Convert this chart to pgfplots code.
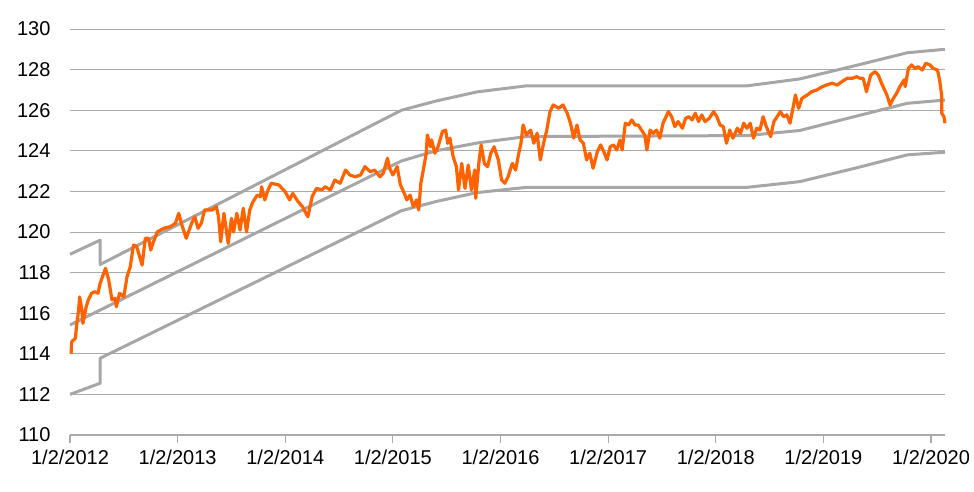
\documentclass[border=0pt]{standalone}
\usepackage{pgfplots}
\pgfplotsset{compat=1.18}
\usepackage{fontspec}
\setmainfont{Liberation Sans}
\definecolor{ingorange}{RGB}{255,98,0}
\definecolor{bandgray}{RGB}{166,166,166}
\definecolor{gridgray}{RGB}{170,170,170}
\begin{document}
\begin{tikzpicture}
\useasboundingbox (-70pt,-57pt) rectangle (904pt,435pt);
\begin{axis}[
  at={(0pt,0pt)}, anchor=south west,
  scale only axis, width=875pt, height=406pt,
  xmin=2012, xmax=2020.13, ymin=110, ymax=130,
  ytick={110,112,...,130},
  xtick={2012,2013,...,2020},
  xticklabels={1/2/2012,1/2/2013,1/2/2014,1/2/2015,1/2/2016,1/2/2017,1/2/2018,1/2/2019,1/2/2020},
  ymajorgrids,
  grid style={draw=gridgray, line width=0.9pt},
  axis x line*=bottom,
  axis y line*=left,
  y axis line style={draw=none},
  x axis line style={draw=gridgray, line width=1.2pt},
  ytick style={draw=none},
  xtick style={draw=gridgray, line width=1.2pt},
  tick align=outside,
  major tick length=8pt,
  /pgf/number format/assume math mode=true,
  tick label style={font=\fontsize{20}{23}\selectfont, text=black},
  yticklabel style={xshift=-8pt},
  xticklabel style={yshift=-3pt},
  clip=false,
]
% upper band
\addplot[draw=bandgray, line width=3pt, line join=round] coordinates {
(2012,118.9) (2012.28,119.6) (2012.28,118.4) (2015.08,126.0) (2015.4,126.45) (2015.78,126.9) (2016.24,127.2) (2018.29,127.2) (2018.78,127.54) (2019.3,128.2) (2019.78,128.83) (2020.13,129.0)
};
% middle band
\addplot[draw=bandgray, line width=3pt, line join=round] coordinates {
(2012,115.42) (2015.08,123.5) (2015.4,124.0) (2015.8,124.4) (2016.24,124.7) (2018.29,124.75) (2018.78,125.0) (2019.3,125.7) (2019.78,126.34) (2020.13,126.5)
};
% lower band
\addplot[draw=bandgray, line width=3pt, line join=round] coordinates {
(2012,112.0) (2012.28,112.55) (2012.28,113.78) (2015.08,121.05) (2015.4,121.5) (2015.78,121.94) (2016.24,122.2) (2018.29,122.2) (2018.78,122.48) (2019.3,123.15) (2019.78,123.8) (2020.13,123.93)
};
% series
\addplot[draw=ingorange, line width=3.2pt, line join=round] coordinates {
(2012.01,114.0) (2012.016,114.6) (2012.05,114.76) (2012.06,115.33) (2012.08,116.16) (2012.09,116.8) (2012.11,116.16) (2012.12,115.5) (2012.15,116.3) (2012.17,116.65) (2012.20,116.98) (2012.23,117.06) (2012.26,116.98) (2012.28,117.47) (2012.33,118.21) (2012.36,117.64) (2012.39,116.65) (2012.42,116.73) (2012.43,116.32) (2012.46,116.98) (2012.50,116.8) (2012.53,117.8) (2012.56,118.29) (2012.59,119.36) (2012.62,119.28) (2012.67,118.37) (2012.70,119.69) (2012.73,119.69) (2012.75,119.11) (2012.77,119.44) (2012.81,120.0) (2012.87,120.18) (2012.93,120.26) (2012.98,120.43) (2013.01,120.92) (2013.04,120.34) (2013.08,119.69) (2013.13,120.43) (2013.16,120.75) (2013.19,120.18) (2013.22,120.43) (2013.25,121.08) (2013.32,121.08) (2013.36,121.25) (2013.38,120.75) (2013.40,119.52) (2013.43,120.92) (2013.47,119.44) (2013.50,120.67) (2013.52,120.0) (2013.55,120.92) (2013.58,120.1) (2013.61,121.17) (2013.64,120.0) (2013.67,121.08) (2013.70,121.49) (2013.74,121.82) (2013.77,121.74) (2013.78,122.23) (2013.81,121.58) (2013.84,122.07) (2013.87,122.4) (2013.94,122.32) (2014.00,121.98) (2014.04,121.58) (2014.07,121.9) (2014.12,121.49) (2014.16,121.25) (2014.21,120.75) (2014.25,121.74) (2014.29,122.15) (2014.34,122.07) (2014.37,122.23) (2014.42,122.07) (2014.46,122.56) (2014.51,122.4) (2014.56,123.05) (2014.60,122.81) (2014.65,122.72) (2014.70,122.81) (2014.74,123.22) (2014.79,122.97) (2014.83,123.05) (2014.88,122.72) (2014.91,122.89) (2014.95,123.63) (2014.97,123.14) (2015.00,122.81) (2015.04,123.22) (2015.07,122.32) (2015.10,121.98) (2015.13,121.58) (2015.16,121.82) (2015.19,121.25) (2015.22,121.58) (2015.24,121.08) (2015.26,122.4) (2015.28,122.97) (2015.31,123.88) (2015.32,124.78) (2015.35,124.2) (2015.36,124.53) (2015.39,123.88) (2015.42,124.2) (2015.46,124.94) (2015.49,125.02) (2015.51,124.37) (2015.53,124.62) (2015.56,123.71) (2015.59,123.22) (2015.61,122.07) (2015.64,123.38) (2015.67,122.15) (2015.70,123.3) (2015.73,122.07) (2015.76,123.05) (2015.77,121.66) (2015.80,123.46) (2015.82,124.29) (2015.85,123.38) (2015.88,123.22) (2015.91,123.88) (2015.94,124.2) (2015.98,123.55) (2016.01,122.56) (2016.04,122.4) (2016.07,122.72) (2016.11,123.38) (2016.14,123.05) (2016.17,123.88) (2016.19,124.37) (2016.21,125.27) (2016.24,124.78) (2016.28,125.02) (2016.31,124.37) (2016.34,124.86) (2016.37,123.55) (2016.40,124.37) (2016.43,125.02) (2016.46,125.93) (2016.49,126.26) (2016.54,126.09) (2016.58,126.26) (2016.62,125.85) (2016.65,125.36) (2016.68,124.62) (2016.71,125.27) (2016.74,124.53) (2016.77,124.37) (2016.80,123.55) (2016.83,123.88) (2016.86,123.14) (2016.90,123.96) (2016.93,124.29) (2016.96,123.96) (2016.99,123.55) (2017.02,124.2) (2017.05,124.29) (2017.08,124.04) (2017.11,124.53) (2017.13,124.04) (2017.16,125.36) (2017.19,125.27) (2017.22,125.52) (2017.25,125.27) (2017.28,125.27) (2017.31,125.02) (2017.34,124.78) (2017.36,124.04) (2017.39,125.02) (2017.42,124.86) (2017.45,125.02) (2017.48,124.62) (2017.51,125.36) (2017.56,125.93) (2017.59,125.68) (2017.62,125.19) (2017.65,125.44) (2017.69,125.11) (2017.72,125.6) (2017.75,125.68) (2017.78,125.52) (2017.81,125.85) (2017.84,125.44) (2017.87,125.77) (2017.90,125.44) (2017.94,125.6) (2017.98,125.93) (2018.01,125.68) (2018.04,125.27) (2018.07,125.19) (2018.10,124.37) (2018.13,125.02) (2018.16,124.62) (2018.20,125.11) (2018.23,124.86) (2018.26,125.36) (2018.29,125.11) (2018.32,125.36) (2018.35,124.62) (2018.38,125.11) (2018.41,125.02) (2018.44,125.68) (2018.47,125.19) (2018.49,124.94) (2018.51,124.7) (2018.54,125.44) (2018.57,125.68) (2018.60,125.93) (2018.63,125.68) (2018.66,125.77) (2018.69,125.36) (2018.72,126.17) (2018.74,126.75) (2018.77,126.09) (2018.80,126.58) (2018.85,126.75) (2018.89,126.91) (2018.94,127.0) (2018.99,127.16) (2019.03,127.24) (2019.08,127.33) (2019.13,127.24) (2019.17,127.4) (2019.22,127.57) (2019.27,127.57) (2019.31,127.65) (2019.34,127.57) (2019.37,127.57) (2019.40,126.91) (2019.44,127.73) (2019.48,127.9) (2019.51,127.73) (2019.54,127.33) (2019.59,126.75) (2019.62,126.26) (2019.65,126.58) (2019.68,126.83) (2019.71,127.16) (2019.75,127.49) (2019.76,127.16) (2019.79,128.06) (2019.82,128.23) (2019.85,128.06) (2019.88,128.14) (2019.92,127.98) (2019.95,128.31) (2019.99,128.23) (2020.02,128.06) (2020.06,127.98) (2020.08,127.49) (2020.10,126.67) (2020.10,125.85) (2020.12,125.68) (2020.13,125.36)
};
\end{axis}
\end{tikzpicture}
\end{document}
